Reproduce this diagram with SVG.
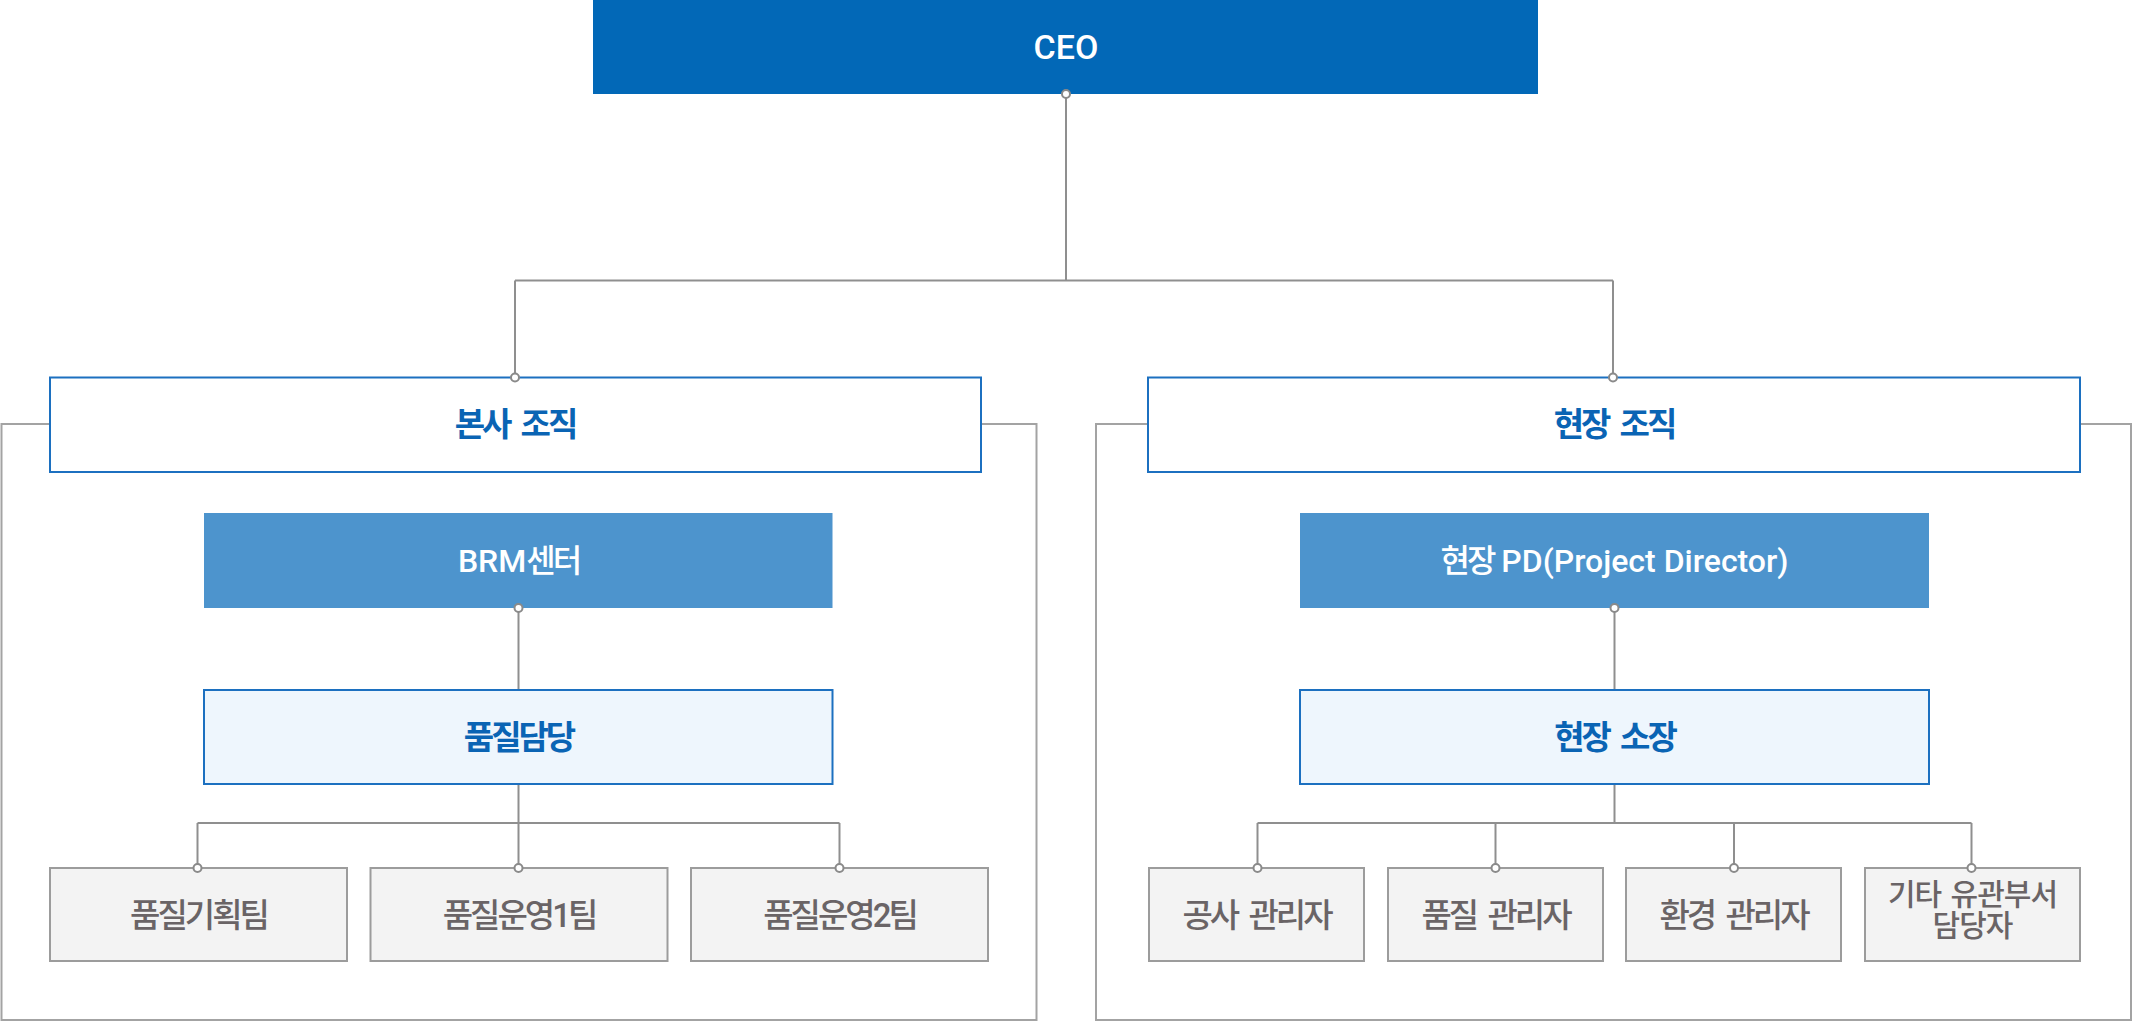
<svg xmlns="http://www.w3.org/2000/svg" width="2133" height="1022" viewBox="0 0 2133 1022">
<style>
text{font-family:"Roboto","Noto Sans CJK KR",sans-serif;text-anchor:middle;dominant-baseline:central;font-size:32px}
.ko{letter-spacing:-3px;word-spacing:6px}
.container{fill:none;stroke:#a3a3a3;stroke-width:2}
.ceo{fill:#0268b7}
.ceo-t{fill:#fff;font-weight:500;font-size:34px}
.hdr{fill:#fff;stroke:#1c70c0;stroke-width:2}
.hdr-t{fill:#0a64b4;font-weight:700;font-size:33px}
.mid{fill:#4d94cd}
.mid-t{fill:#fff;font-weight:500;font-size:32px}
.lead{fill:#eef6fd;stroke:#1c70c0;stroke-width:2}
.lead-t{fill:#0a64b4;font-weight:700;font-size:33px}
.leaf{fill:#f3f3f3;stroke:#9c9c9c;stroke-width:2}
.leaf-t{fill:#6a6466;font-weight:500;font-size:33px}
.leaf-s{font-size:30px;letter-spacing:-1px;word-spacing:3px}
.conn{fill:none;stroke:#8f8f8f;stroke-width:2}
.dot{fill:#fff;stroke:#8a8a8a;stroke-width:2}
</style>
<rect width="2133" height="1022" fill="#fff"/>
<g id="containers">
<rect class="container" x="1.5" y="424" width="1035" height="596"/>
<rect class="container" x="1096" y="424" width="1035" height="596"/>
</g>
<g id="connectors">
<path class="conn" d="M1066 94V280.5M515 280.5H1613M515 280.5V377M1613 280.5V377"/>
<path class="conn" d="M518.5 608V690M518.5 784V823M197.5 823H839.5M197.5 823V868M518.5 823V868M839.5 823V868"/>
<path class="conn" d="M1614.5 608V690M1614.5 784V823M1257.5 823H1971.5M1257.5 823V868M1495.5 823V868M1734 823V868M1971.5 823V868"/>
</g>
<g id="ceo">
<rect class="ceo" x="593" y="0" width="945" height="94"/>
<text class="ceo-t" x="1066" y="47">CEO</text>
</g>
<g id="hq">
<rect class="hdr" x="50" y="377.5" width="931" height="94.5"/>
<text class="hdr-t ko" x="515" y="424.5">본사 조직</text>
</g>
<g id="site">
<rect class="hdr" x="1148" y="377.5" width="932" height="94.5"/>
<text class="hdr-t ko" x="1614" y="424.5">현장 조직</text>
</g>
<g id="brm">
<rect class="mid" x="204" y="513" width="628.5" height="95"/>
<text class="mid-t" x="518.5" y="560.5"><tspan>BRM</tspan><tspan class="ko">센터</tspan></text>
</g>
<g id="pd">
<rect class="mid" x="1300" y="513" width="629" height="95"/>
<text class="mid-t" x="1614.5" y="560.5"><tspan class="ko">현장</tspan><tspan> PD(Project Director)</tspan></text>
</g>
<g id="quality-lead">
<rect class="lead" x="204" y="690" width="628.5" height="94"/>
<text class="lead-t ko" x="518.5" y="737">품질담당</text>
</g>
<g id="site-manager">
<rect class="lead" x="1300" y="690" width="629" height="94"/>
<text class="lead-t ko" x="1614.5" y="737">현장 소장</text>
</g>
<g id="team-plan">
<rect class="leaf" x="50" y="868" width="297" height="93"/>
<text class="leaf-t ko" x="198.5" y="915">품질기획팀</text>
</g>
<g id="team-op1">
<rect class="leaf" x="370.5" y="868" width="297" height="93"/>
<text class="leaf-t ko" x="519" y="915">품질운영1팀</text>
</g>
<g id="team-op2">
<rect class="leaf" x="691" y="868" width="297" height="93"/>
<text class="leaf-t ko" x="839.5" y="915">품질운영2팀</text>
</g>
<g id="mgr-construction">
<rect class="leaf" x="1149" y="868" width="215" height="93"/>
<text class="leaf-t ko" x="1256.5" y="915">공사 관리자</text>
</g>
<g id="mgr-quality">
<rect class="leaf" x="1388" y="868" width="215" height="93"/>
<text class="leaf-t ko" x="1495.5" y="915">품질 관리자</text>
</g>
<g id="mgr-env">
<rect class="leaf" x="1626" y="868" width="215" height="93"/>
<text class="leaf-t ko" x="1733.5" y="915">환경 관리자</text>
</g>
<g id="mgr-other">
<rect class="leaf" x="1865" y="868" width="215" height="93"/>
<text class="leaf-t leaf-s" x="1972.5" y="894">기타 유관부서</text>
<text class="leaf-t leaf-s" x="1972.5" y="925">담당자</text>
</g>
<g id="connector-dots">
<circle class="dot" cx="1066" cy="94" r="4"/>
<circle class="dot" cx="515" cy="377.5" r="4"/>
<circle class="dot" cx="1613" cy="377.5" r="4"/>
<circle class="dot" cx="518.5" cy="608" r="4"/>
<circle class="dot" cx="1614.5" cy="608" r="4"/>
<circle class="dot" cx="197.5" cy="868" r="4"/>
<circle class="dot" cx="518.5" cy="868" r="4"/>
<circle class="dot" cx="839.5" cy="868" r="4"/>
<circle class="dot" cx="1257.5" cy="868" r="4"/>
<circle class="dot" cx="1495.5" cy="868" r="4"/>
<circle class="dot" cx="1734" cy="868" r="4"/>
<circle class="dot" cx="1971.5" cy="868" r="4"/>
</g>
</svg>
